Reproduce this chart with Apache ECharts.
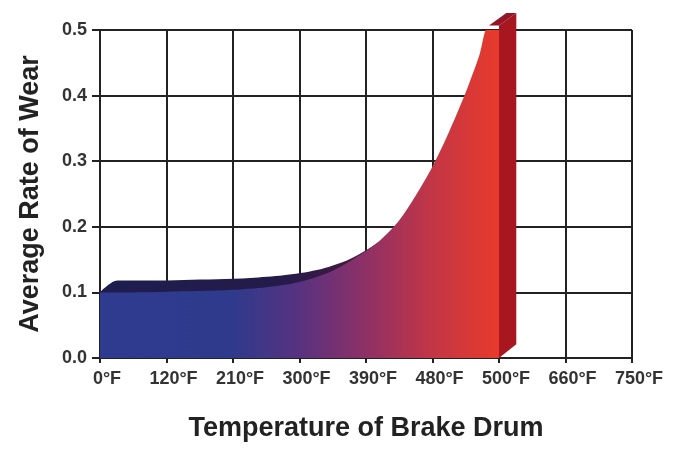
<!DOCTYPE html>
<html>
<head>
<meta charset="utf-8">
<script src="https://cdn.jsdelivr.net/npm/echarts@6/dist/echarts.min.js"></script>
<style>
  html, body { margin: 0; padding: 0; background: #fff; }
  #chart { width: 673px; height: 449px; }
</style>
</head>
<body>
<div id="chart"></div>
<script>
const tempLabels = ['0°F', '120°F', '210°F', '300°F', '390°F', '480°F', '500°F', '660°F', '750°F'];
// wear curve, x is label index position
const wearX = [0, 0.5, 1, 1.5, 2, 2.5, 3, 3.5, 4, 4.25, 4.5, 4.75, 5, 5.25, 5.5, 5.7, 5.85, 6];
const wearY = [0.100, 0.100, 0.101, 0.102, 0.104, 0.108, 0.116, 0.133, 0.163, 0.183, 0.21, 0.248, 0.292, 0.345, 0.405, 0.46, 0.507, 0.507];
// 3d depth of the block (in axis units)
const depthX = 0.26;
const depthY = 0.018;
const wallPoints = [[6, 0], [6, 0.507], [6.26, 0.526], [6.26, 0.021]];
const capPoints = [[5.85, 0.507], [6, 0.507], [6.26, 0.526], [6.11, 0.526]];

const frontData = wearX.map((x, i) => [x, wearY[i]]);
const backData = [[0, wearY[0]]]
    .concat(frontData.map(p => [p[0] + depthX, p[1] + depthY]).filter(p => p[0] <= 6))
    .concat([[6, 0.49]]);

const chart = echarts.init(document.getElementById('chart'));

function polygonItem(points, color) {
    return (params, api) => ({
        type: 'polygon',
        shape: { points: points.map(p => api.coord(p)) },
        style: { fill: color }
    });
}

const gridLine = { lineStyle: { color: '#222', width: 2 } };
const labelFont = { fontFamily: 'Liberation Sans', fontWeight: 'bold', fontSize: 18, color: '#333' };
const titleFont = { fontFamily: 'Liberation Sans', fontWeight: 'bold', fontSize: 27, color: '#222' };

chart.setOption({
    animation: false,
    grid: { left: 100, right: 41, top: 30, bottom: 91 },
    xAxis: {
        type: 'value', min: 0, max: 8, interval: 1,
        name: 'Temperature of Brake Drum',
        nameLocation: 'middle', nameGap: 57,
        nameTextStyle: titleFont,
        axisLine: { lineStyle: { color: '#222', width: 2 } },
        axisTick: { show: true, length: 5, lineStyle: { color: '#222', width: 2 } },
        axisLabel: Object.assign({ margin: 12, padding: [0, 0, 0, 14], formatter: v => tempLabels[v] }, labelFont),
        splitLine: Object.assign({ show: true }, gridLine)
    },
    yAxis: {
        type: 'value', min: 0, max: 0.5, interval: 0.1,
        name: 'Average Rate of Wear',
        nameLocation: 'middle', nameGap: 56,
        nameTextStyle: titleFont,
        axisLine: { show: true, lineStyle: { color: '#222', width: 2 } },
        axisTick: { show: true, length: 8, lineStyle: { color: '#222', width: 2 } },
        axisLabel: Object.assign({ margin: 13, formatter: v => v.toFixed(1) }, labelFont),
        splitLine: Object.assign({ show: true }, gridLine)
    },
    series: [
        {
            type: 'line', data: backData, smooth: 0.3,
            symbol: 'none', lineStyle: { width: 0 }, z: 3,
            areaStyle: {
                opacity: 1,
                color: new echarts.graphic.LinearGradient(0, 0, 1, 0, [
                    { offset: 0, color: '#1d1e4e' },
                    { offset: 0.45, color: '#241b4a' },
                    { offset: 0.65, color: '#45193f' },
                    { offset: 1, color: '#7a1a2a' }
                ])
            }
        },
        {
            type: 'line', data: frontData, smooth: 0.3,
            symbol: 'none', lineStyle: { width: 0 }, z: 4,
            areaStyle: {
                opacity: 1,
                color: new echarts.graphic.LinearGradient(0, 0, 1, 0, [
                    { offset: 0, color: '#2e3b8f' },
                    { offset: 0.33, color: '#2f3a8c' },
                    { offset: 0.5, color: '#573280' },
                    { offset: 0.665, color: '#8e3066' },
                    { offset: 0.83, color: '#c23646' },
                    { offset: 1, color: '#e83a2b' }
                ])
            }
        },
        {
            type: 'custom', z: 5, data: [0],
            renderItem: polygonItem(wallPoints, '#a8161f')
        },
        {
            type: 'custom', z: 5, data: [0],
            renderItem: polygonItem(capPoints, '#951628')
        }
    ]
});
</script>
</body>
</html>
